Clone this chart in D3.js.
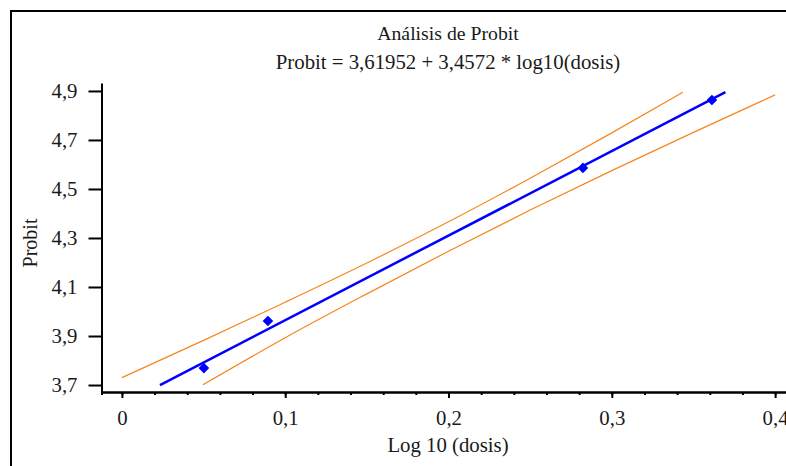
<!DOCTYPE html>
<html>
<head>
<meta charset="utf-8">
<script src="https://cdn.jsdelivr.net/npm/d3@7"></script>
<style>
  body { margin: 0; background: #fff; }
  text { font-family: "Liberation Serif", "Times New Roman", Times, serif; fill: #1a1a1a; }
  .axis path, .axis line { stroke: #000; stroke-width: 2; }
</style>
</head>
<body>
<div id="chart"></div>
<script>
// observed points (log10 dose, probit)
var pointX = [0.0502, 0.0894, 0.2823, 0.3613];
var pointY = [3.769, 3.961, 4.586, 4.863];

// fitted line, ends
var fitX = [0.0233, 0.3696];
var fitY = [3.700, 4.895];

// confidence limits
var upperX = [0, 0.05, 0.1, 0.15, 0.2, 0.25, 0.3, 0.3435];
var upperY = [3.730, 3.882, 4.038, 4.198, 4.366, 4.544, 4.729, 4.895];
var lowerX = [0.0496, 0.1, 0.15, 0.2, 0.25, 0.3, 0.35, 0.4];
var lowerY = [3.701, 3.893, 4.072, 4.246, 4.414, 4.575, 4.731, 4.884];

var xTicks = [0, 0.1, 0.2, 0.3, 0.4];
var xMinorTicks = d3.range(0, 0.42, 0.02);
var yTicks = [3.7, 3.9, 4.1, 4.3, 4.5, 4.7, 4.9];

var title = "Análisis de Probit";
var subtitle = "Probit = 3,61952 + 3,4572 * log10(dosis)";
var xLabel = "Log 10 (dosis)";
var yLabel = "Probit";

var width = 786, height = 466;
var sx = 1.04; // text in the picture is a bit wide
var fs = 20;

var svg = d3.select("#chart")
            .append("svg")
              .attr("width", width)
              .attr("height", height);

// outer frame (runs off the right and bottom edges)
svg.append("rect")
    .attr("x", 11)
    .attr("y", 11)
    .attr("width", 800)
    .attr("height", 500)
    .attr("fill", "none")
    .attr("stroke", "#000")
    .attr("stroke-width", 2);

var xScale = d3.scaleLinear()
                .domain([-0.0125, 0.41])
                .range([101.5, 101.5 + 0.4225 * 1633]);

var yScale = d3.scaleLinear()
                .domain([3.6715, 4.9325])
                .range([392, 83]);

var comma = function(d) {
  return d === 0 ? "0" : d3.format(".1f")(d).replace(".", ",");
};

// stretch text horizontally around its anchor point
function stretch(sel) {
  sel.each(function() {
    var t = d3.select(this);
    var x = +t.attr("x") || 0;
    var y = +t.attr("y") || 0;
    t.attr("x", 0).attr("y", 0)
     .attr("transform", "translate(" + x + "," + y + ") scale(" + sx + ",1)");
  });
}

// axes
var xAxisMinor = d3.axisBottom(xScale).tickValues(xMinorTicks).tickSize(3).tickFormat("");
svg.append("g")
    .attr("class", "axis")
    .attr("transform", "translate(0,392)")
    .call(xAxisMinor);

var xAxis = d3.axisBottom(xScale).tickValues(xTicks).tickSize(6).tickSizeOuter(0)
              .tickPadding(13).tickFormat(comma);
var gx = svg.append("g")
    .attr("class", "axis")
    .attr("transform", "translate(0,392)")
    .call(xAxis);
gx.attr("font-family", null);
gx.selectAll("text").attr("font-size", fs).call(stretch);

var yAxis = d3.axisLeft(yScale).tickValues(yTicks).tickSize(13).tickSizeOuter(0)
              .tickPadding(11).tickFormat(comma);
var gy = svg.append("g")
    .attr("class", "axis")
    .attr("transform", "translate(101.5,0)")
    .call(yAxis);
gy.attr("font-family", null);
gy.selectAll("text").attr("font-size", fs).call(stretch);

// titles
svg.append("text")
    .attr("x", 448)
    .attr("y", 40)
    .attr("text-anchor", "middle")
    .attr("font-size", 19)
    .text(title)
    .call(stretch);

svg.append("text")
    .attr("x", 448)
    .attr("y", 69)
    .attr("text-anchor", "middle")
    .attr("font-size", fs)
    .text(subtitle)
    .call(stretch);

svg.append("text")
    .attr("x", 448)
    .attr("y", 452)
    .attr("text-anchor", "middle")
    .attr("font-size", fs)
    .text(xLabel)
    .call(stretch);

svg.append("text")
    .attr("text-anchor", "middle")
    .attr("font-size", fs)
    .attr("transform", "translate(37,243) rotate(-90) scale(1," + sx + ")")
    .text(yLabel);

// lines
var line = d3.line()
              .curve(d3.curveMonotoneX)
              .x(function(d) { return xScale(d[0]); })
              .y(function(d) { return yScale(d[1]); });

svg.append("path")
    .datum(d3.zip(upperX, upperY))
    .attr("d", line)
    .attr("fill", "none")
    .attr("stroke", "#f7861c")
    .attr("stroke-width", 1.2);

svg.append("path")
    .datum(d3.zip(lowerX, lowerY))
    .attr("d", line)
    .attr("fill", "none")
    .attr("stroke", "#f7861c")
    .attr("stroke-width", 1.2);

svg.append("path")
    .datum(d3.zip(fitX, fitY))
    .attr("d", line)
    .attr("fill", "none")
    .attr("stroke", "#0000ff")
    .attr("stroke-width", 2.5);

// points
var diamond = d3.symbol().type(d3.symbolSquare).size(56);
svg.selectAll(".pt")
    .data(d3.zip(pointX, pointY))
    .enter()
   .append("path")
    .attr("class", "pt")
    .attr("d", diamond)
    .attr("fill", "#0000ff")
    .attr("transform", function(d) {
      return "translate(" + xScale(d[0]) + "," + yScale(d[1]) + ") rotate(45)";
    });
</script>
</body>
</html>
